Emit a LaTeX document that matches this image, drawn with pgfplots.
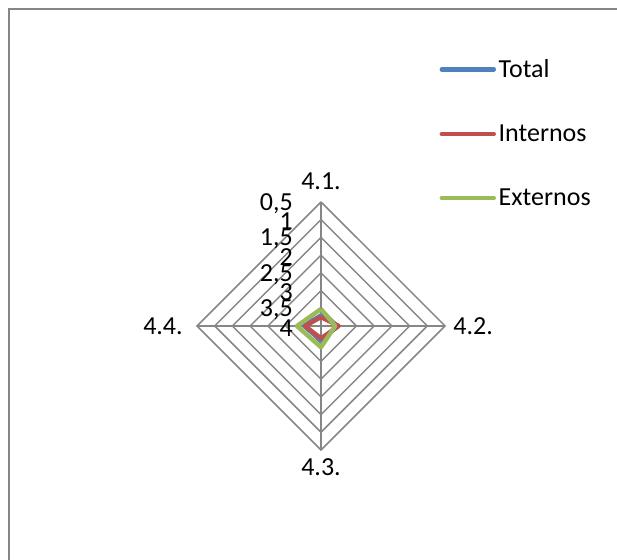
\documentclass[border=0pt]{standalone}
\usepackage{pgfplots}
\usepackage{pgfplotstable}
\pgfplotsset{compat=1.18}
\usepackage{fontspec}
\setmainfont{Carlito}
\newcommand\cf{\fontsize{19.5}{23.4}\selectfont}
\definecolor{cTotal}{HTML}{4F81BD}
\definecolor{cInt}{HTML}{C0504D}
\definecolor{cExt}{HTML}{9BBB59}
\definecolor{cGrid}{HTML}{868686}

% idx: 0=4.1. (top), 1=4.2. (right), 2=4.3. (bottom), 3=4.4. (left); axis reversed (4 at centre)
\pgfplotstableread{
idx v
0 3.70
1 3.52
2 3.60
3 3.52
4 3.70
}\total
\pgfplotstableread{
idx v
0 3.75
1 3.50
2 3.65
3 3.55
4 3.75
}\internos
\pgfplotstableread{
idx v
0 3.52
1 3.60
2 3.40
3 3.32
4 3.52
}\externos

\begin{document}
\begin{tikzpicture}
\begin{axis}[
  scale only axis, width=462.75pt, height=420pt,
  xmin=-9.060, xmax=8.354, ymin=-6.605, ymax=9.201,
  hide axis, clip=false,
  legend cell align=left,
  legend style={at={(axis cs:3.34,7.61)}, anchor=north west, draw=none, fill=none,
    font=\cf, row sep=30pt, inner sep=0pt,
    nodes={inner xsep=2pt, inner ysep=2pt}},
  legend image code/.code={\draw[#1, line cap=round, line width=3.3pt] (0pt,0pt) -- (39pt,0pt);},
]
% frame (top and left edges)
\draw[cGrid, line width=1.1pt] (axis cs:-8.806,-6.605) -- (axis cs:-8.806,8.947) -- (axis cs:8.354,8.947);
% grid rings
\addplot[cGrid, line width=1.1pt, forget plot] coordinates {(0,0.5) (0.5,0) (0,-0.5) (-0.5,0) (0,0.5)};
\addplot[cGrid, line width=1.1pt, forget plot] coordinates {(0,1) (1,0) (0,-1) (-1,0) (0,1)};
\addplot[cGrid, line width=1.1pt, forget plot] coordinates {(0,1.5) (1.5,0) (0,-1.5) (-1.5,0) (0,1.5)};
\addplot[cGrid, line width=1.1pt, forget plot] coordinates {(0,2) (2,0) (0,-2) (-2,0) (0,2)};
\addplot[cGrid, line width=1.1pt, forget plot] coordinates {(0,2.5) (2.5,0) (0,-2.5) (-2.5,0) (0,2.5)};
\addplot[cGrid, line width=1.1pt, forget plot] coordinates {(0,3) (3,0) (0,-3) (-3,0) (0,3)};
\addplot[cGrid, line width=1.1pt, forget plot] coordinates {(0,3.5) (3.5,0) (0,-3.5) (-3.5,0) (0,3.5)};
\addplot[cGrid, line width=1.1pt, forget plot] coordinates {(0,3.5) (0,-3.5)};
\addplot[cGrid, line width=1.1pt, forget plot] coordinates {(-3.5,0) (3.5,0)};
% series
\addplot[cTotal, line width=3.3pt, line join=round] table[x expr={(4-\thisrow{v})*sin(90*\thisrow{idx})}, y expr={(4-\thisrow{v})*cos(90*\thisrow{idx})}] {\total};
\addlegendentry{Total}
\addplot[cInt, line width=3.3pt, line join=round] table[x expr={(4-\thisrow{v})*sin(90*\thisrow{idx})}, y expr={(4-\thisrow{v})*cos(90*\thisrow{idx})}] {\internos};
\addlegendentry{Internos}
\addplot[cExt, line width=3.3pt, line join=round] table[x expr={(4-\thisrow{v})*sin(90*\thisrow{idx})}, y expr={(4-\thisrow{v})*cos(90*\thisrow{idx})}] {\externos};
\addlegendentry{Externos}
% radial tick labels (reversed: 4 at centre)
\node[anchor=east, font=\cf, inner sep=0pt] at (axis cs:-0.79,3.45) {0,5};
\node[anchor=east, font=\cf, inner sep=0pt] at (axis cs:-0.79,2.95) {1};
\node[anchor=east, font=\cf, inner sep=0pt] at (axis cs:-0.79,2.45) {1,5};
\node[anchor=east, font=\cf, inner sep=0pt] at (axis cs:-0.79,1.95) {2};
\node[anchor=east, font=\cf, inner sep=0pt] at (axis cs:-0.79,1.45) {2,5};
\node[anchor=east, font=\cf, inner sep=0pt] at (axis cs:-0.79,0.95) {3};
\node[anchor=east, font=\cf, inner sep=0pt] at (axis cs:-0.79,0.45) {3,5};
\node[anchor=east, font=\cf, inner sep=0pt] at (axis cs:-0.79,-0.05) {4};
% category labels
\node[anchor=base, font=\cf, inner sep=0pt] at (axis cs:0,3.84) {4.1.};
\node[anchor=base west, font=\cf, inner sep=0pt] at (axis cs:3.73,-0.25) {4.2.};
\node[anchor=base, font=\cf, inner sep=0pt] at (axis cs:0,-4.23) {4.3.};
\node[anchor=base east, font=\cf, inner sep=0pt] at (axis cs:-3.895,-0.25) {4.4.};
\end{axis}
\pgfresetboundingbox
\path[use as bounding box] (current axis.south west) rectangle (current axis.north east);
\end{tikzpicture}
\end{document}
